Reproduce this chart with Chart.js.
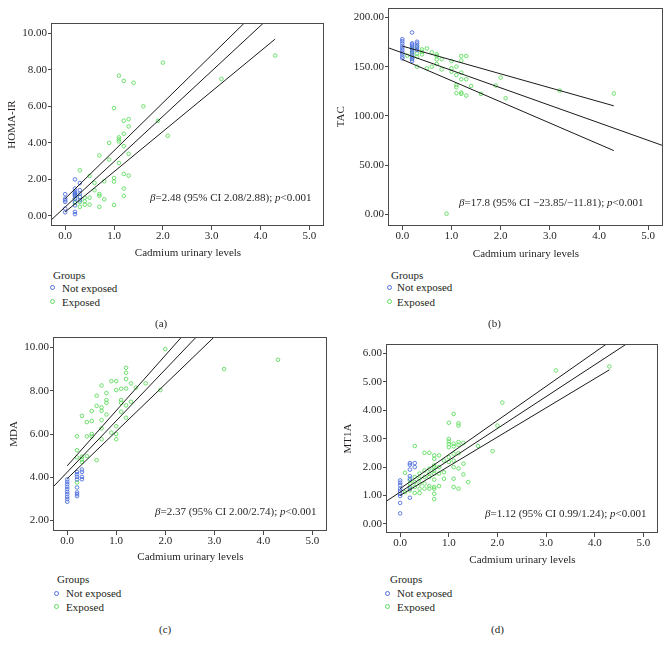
<!DOCTYPE html>
<html>
<head>
<meta charset="utf-8">
<script src="https://cdn.jsdelivr.net/npm/chart.js@4.4.1/dist/chart.umd.min.js"></script>
<style>
  body { margin: 0; background: #fff; width: 670px; height: 651px; position: relative; overflow: hidden;
         font-family: "Liberation Serif", "DejaVu Serif", serif; color: #231f20; }
  canvas { position: absolute; }
  .t { position: absolute; font-size: 11px; line-height: 14px; white-space: nowrap; }
  .dot { position: absolute; width: 3px; height: 3px; border: 1px solid; border-radius: 50%; }
</style>
</head>
<body>
<canvas id="ca" style="left:0;top:0" width="335" height="260"></canvas>
<canvas id="cb" style="left:335px;top:0" width="335" height="261"></canvas>
<canvas id="cc" style="left:0;top:320px" width="335" height="244"></canvas>
<canvas id="cd" style="left:335px;top:320px" width="335" height="247"></canvas>

<!-- stats -->
<div class="t" style="left:150px;top:190px"><i>β</i>=2.48 (95% CI 2.08/2.88); <i>p</i>&lt;0.001</div>
<div class="t" style="left:459px;top:195px"><i>β</i>=17.8 (95% CI −23.85/−11.81); <i>p</i>&lt;0.001</div>
<div class="t" style="left:155px;top:504px"><i>β</i>=2.37 (95% CI 2.00/2.74); <i>p</i>&lt;0.001</div>
<div class="t" style="left:485px;top:506px"><i>β</i>=1.12 (95% CI 0.99/1.24); <i>p</i>&lt;0.001</div>

<!-- legends -->
<div class="t" style="left:53px;top:268px">Groups</div>
<div class="dot" style="left:50px;top:285px;border-color:#4f6fe0"></div>
<div class="t" style="left:62px;top:281px">Not exposed</div>
<div class="dot" style="left:50px;top:299px;border-color:#5fdc5f"></div>
<div class="t" style="left:62px;top:295px">Exposed</div>

<div class="t" style="left:391px;top:268px">Groups</div>
<div class="dot" style="left:387px;top:285px;border-color:#4f6fe0"></div>
<div class="t" style="left:397px;top:280px">Not exposed</div>
<div class="dot" style="left:387px;top:299px;border-color:#5fdc5f"></div>
<div class="t" style="left:397px;top:295px">Exposed</div>

<div class="t" style="left:57px;top:572px">Groups</div>
<div class="dot" style="left:54px;top:591px;border-color:#4f6fe0"></div>
<div class="t" style="left:66px;top:586px">Not exposed</div>
<div class="dot" style="left:54px;top:604px;border-color:#5fdc5f"></div>
<div class="t" style="left:66px;top:600px">Exposed</div>

<div class="t" style="left:390px;top:572px">Groups</div>
<div class="dot" style="left:385px;top:591px;border-color:#4f6fe0"></div>
<div class="t" style="left:397px;top:586px">Not exposed</div>
<div class="dot" style="left:385px;top:604px;border-color:#5fdc5f"></div>
<div class="t" style="left:397px;top:600px">Exposed</div>

<!-- captions -->
<div class="t" style="left:155px;top:316px">(a)</div>
<div class="t" style="left:488px;top:316px">(b)</div>
<div class="t" style="left:159px;top:622px">(c)</div>
<div class="t" style="left:491px;top:622px">(d)</div>

<script>
// x = cadmium urinary levels, y = marker
const homaNotExposed = [[0,1.19],[0,0.95],[0,0.86],[0,0.77],[0,0.4],[0,0.2],
  [0.2,2.0],[0.2,1.5],[0.2,1.32],[0.2,1.25],[0.2,1.19],[0.2,1.12],[0.2,1.08],[0.2,0.95],[0.2,0.77],[0.2,0.58],[0.2,0.22],[0.2,0.1],
  [0.3,1.8],[0.3,1.41],[0.3,1.22],[0.3,1.04],[0.3,0.86]];
const homaExposed = [[4.3,8.78],[2.0,8.39],[1.1,7.68],[1.2,7.39],[1.4,7.29],[1.0,5.9],[1.6,6.0],[3.2,7.5],[1.9,5.21],[2.1,4.39],
  [1.3,5.3],[1.2,5.21],[1.3,4.9],[1.2,4.5],[1.1,4.3],[1.1,4.19],[1.1,4.08],[0.9,4.0],[1.2,3.82],[0.7,3.31],[0.9,3.09],[1.3,3.4],
  [1.1,2.9],[0.3,2.5],[1.2,2.3],[1.3,2.21],[0.5,2.19],[1.0,2.08],[1.0,1.88],[0.6,1.81],[0.8,1.9],[0.6,1.41],[1.2,1.5],[0.7,1.2],
  [0.7,1.1],[1.2,1.1],[0.8,0.91],[0.5,1.0],[0.4,1.0],[0.4,0.8],[0.4,0.62],[0.5,0.62],[0.3,0.5],[0.7,0.5],[1.0,0.6],
  [0.2,1.22],[0.2,0.95],[0.2,0.71],[0.3,1.04],[0.3,0.77]];
const homaFit = [[-0.4,-0.5],[4.5,11.65]];
const homaUpper = [[0,0.95],[4.2,11.95]];
const homaLower = [[0,0.22],[4.3,9.68]];

const tacNotExposed = [[0,178],[0,176],[0,173.7],[0,171.3],[0,169.3],[0,167],[0,164.6],[0,162.6],[0,160.2],[0,158.5],
  [0.2,184.8],[0.2,173.7],[0.2,172.7],[0.2,171.3],[0.2,169.3],[0.2,167],[0.2,164.6],[0.2,162.6],[0.2,160.2],[0.2,157.8],[0.2,155.8],
  [0.3,175.4],[0.3,173.7],[0.3,171.3],[0.3,169.3],[0.3,167]];
const tacExposed = [[0.1,161.2],[0.2,168.6],[0.2,165.3],[0.2,161.9],[0.2,158.5],[0.3,170.3],[0.3,163.6],[0.3,160.2],[0.3,150.1],
  [0.4,167.6],[0.4,165.3],[0.4,162.6],[0.5,168.6],[0.5,148.4],[0.6,164.6],[0.6,150.1],[0.7,162.6],[0.7,160.9],[0.7,157.5],[0.7,152.8],
  [0.8,157.8],[0.8,147.4],[0.9,0.7],[1.0,155.8],[1.0,148.4],[1.0,145],[1.1,150.1],[1.1,141.7],[1.1,131.5],[1.1,129.2],[1.1,123.1],
  [1.2,160.9],[1.2,156.2],[1.2,144],[1.2,137.3],[1.2,123.8],[1.2,122.4],[1.3,160.9],[1.3,137.3],[1.3,120.7],[1.4,130.5],[1.6,122.4],
  [1.9,130.9],[2.0,139],[2.1,118],[3.2,125.8],[4.3,122.8]];
const tacFit = [[-0.4,171.3],[5.5,66.3]];
const tacUpper = [[0,171],[4.3,110.3]];
const tacLower = [[0,157.4],[4.3,64.8]];

const mdaNotExposed = [[0,3.9],[0,3.79],[0,3.68],[0,3.56],[0,3.45],[0,3.33],[0,3.22],[0,3.1],[0,2.99],[0,2.87],
  [0.2,4.25],[0.2,4.14],[0.2,4.02],[0.2,3.9],[0.2,3.53],[0.2,3.3],[0.2,3.22],[0.2,3.13],
  [0.3,4.36],[0.3,4.25],[0.3,4.02],[0.3,3.91]];
const mdaExposed = [[2.0,9.92],[4.3,9.43],[3.2,9.0],[1.2,9.06],[1.2,8.83],[1.2,8.54],[1.2,8.1],[0.9,8.44],[1.0,8.44],[0.7,8.24],
  [1.3,8.34],[1.6,8.34],[1.4,8.14],[1.9,8.03],[1.0,8.03],[1.1,8.09],[0.6,7.77],[0.8,7.89],[0.8,7.57],[0.8,7.44],[1.1,7.57],[1.1,7.44],
  [1.3,7.49],[1.2,7.32],[0.5,7.06],[0.6,7.3],[0.7,7.23],[0.7,7.07],[0.3,6.84],[0.8,6.9],[1.1,7.03],[1.2,6.75],[0.4,6.55],[0.5,6.6],
  [0.7,6.64],[1.0,6.36],[0.7,6.26],[0.2,5.89],[0.4,5.89],[0.5,6.0],[0.5,5.89],[0.9,6.06],[1.0,6.0],[1.0,5.76],[0.7,5.76],[0.2,5.25],
  [0.2,4.92],[0.3,4.95],[0.3,4.82],[0.3,4.71],[0.4,4.98],[0.6,4.79],[0.2,3.76]];
const mdaFit = [[-0.4,3.29],[3.0,11.35]];
const mdaUpper = [[0,4.53],[2.6,11.16]];
const mdaLower = [[0,3.94],[3.2,10.92]];

const mt1aNotExposed = [[0,1.53],[0,1.45],[0,1.36],[0,1.24],[0,1.16],[0,1.06],[0,0.98],[0,0.74],[0,0.37],
  [0.2,2.14],[0.2,2.08],[0.2,1.91],[0.2,1.68],[0.2,1.59],[0.2,1.24],[0.2,0.92],[0.3,2.14],[0.3,2.0]];
const mt1aExposed = [[4.3,5.54],[3.2,5.4],[2.1,4.27],[2.0,3.46],[1.9,2.56],[1.6,2.74],[1.4,1.47],[1.1,3.87],[1.0,3.56],[1.2,3.54],
  [1.2,3.46],[1.0,2.99],[1.0,2.9],[1.0,2.81],[1.0,2.7],[1.1,2.82],[1.1,2.73],[1.2,2.88],[1.2,2.78],[1.3,2.85],[1.1,2.47],[1.1,2.23],
  [1.1,2.0],[1.2,2.49],[1.2,1.95],[1.3,2.12],[1.3,1.74],[1.0,2.35],[1.0,2.18],[1.1,1.59],[1.1,1.3],[1.2,1.24],[0.9,2.23],[0.9,1.82],
  [0.9,1.59],[0.8,2.41],[0.8,2.0],[0.8,1.77],[0.8,1.33],[0.7,2.41],[0.7,2.29],[0.7,2.06],[0.7,2.0],[0.7,1.88],[0.7,1.77],[0.7,1.56],
  [0.7,1.3],[0.7,1.24],[0.7,1.06],[0.7,0.87],[0.6,2.5],[0.6,1.94],[0.6,1.77],[0.6,1.65],[0.6,1.33],[0.6,1.24],[0.5,2.5],[0.5,1.88],
  [0.5,1.65],[0.5,1.42],[0.5,1.24],[0.4,1.77],[0.4,1.59],[0.4,1.42],[0.4,1.24],[0.4,1.09],[0.3,2.74],[0.3,1.65],[0.3,1.47],[0.3,1.3],
  [0.3,1.09],[0.2,1.53],[0.2,1.42],[0.2,1.3],[0.2,1.18],[0.1,1.8],[0.1,1.12]];
const mt1aFit = [[-0.4,0.67],[5.0,6.72]];
const mt1aUpper = [[0,1.24],[4.6,6.76]];
const mt1aLower = [[0,1.0],[4.3,5.42]];

const xTicks = [0, 1, 2, 3, 4, 5];

const blue = '#4f6fe0';
const green = '#5fdc5f';
const ink = '#231f20';
const font = { family: '"Liberation Serif", "DejaVu Serif", serif', size: 11, lineHeight: 1.2 };

const frame = {
  id: 'frame',
  afterDatasetsDraw(chart) {
    const { ctx, chartArea: a } = chart;
    ctx.save();
    ctx.strokeStyle = '#4a4a4a';
    ctx.lineWidth = 1;
    ctx.strokeRect(Math.round(a.left) - 0.5, Math.round(a.top) + 0.5,
      Math.round(a.right - a.left), Math.round(a.bottom - a.top) - 1);
    ctx.restore();
  }
};

const toXY = pts => pts.map(p => ({ x: p[0], y: p[1] }));

function fitLine(pts) {
  return { data: toXY(pts), showLine: true, borderColor: '#1a1a1a', borderWidth: 1, pointRadius: 0, pointHoverRadius: 0 };
}
function dots(pts, color) {
  return { data: toXY(pts), showLine: false, pointStyle: 'circle', pointRadius: 1.8, pointHoverRadius: 1.8,
    borderWidth: 0.9, borderColor: color, backgroundColor: 'rgba(0,0,0,0)' };
}

function panel(id, p) {
  new Chart(document.getElementById(id), {
    type: 'scatter',
    data: {
      datasets: [fitLine(p.fit), fitLine(p.upper), fitLine(p.lower), dots(p.notExp, blue), dots(p.exp, green)]
    },
    options: {
      responsive: false,
      animation: false,
      events: [],
      layout: { padding: { top: p.padTop, right: p.padRight, left: 0, bottom: 0 } },
      plugins: { legend: { display: false }, tooltip: { enabled: false } },
      scales: {
        x: {
          type: 'linear', min: -0.27, max: 5.3,
          afterBuildTicks: s => { s.ticks = xTicks.map(v => ({ value: v })); },
          afterFit: s => { s.height = p.xHeight; },
          grid: { drawOnChartArea: false, tickLength: 4, color: '#4a4a4a' },
          border: { display: false },
          ticks: { padding: 0, color: ink, font, callback: v => v.toFixed(1) },
          title: { display: true, text: 'Cadmium urinary levels', color: ink, font, padding: { top: 0, bottom: 0 } }
        },
        y: {
          min: p.yMin, max: p.yMax,
          afterBuildTicks: s => { s.ticks = p.yTicks.map(v => ({ value: v })); },
          afterFit: s => { s.width = p.yWidth; },
          grid: { drawOnChartArea: false, tickLength: 4, color: '#4a4a4a' },
          border: { display: false },
          ticks: { padding: 1, color: ink, font, callback: v => v.toFixed(2) },
          title: { display: true, text: p.yTitle, color: ink, font, padding: { top: p.titlePad, bottom: 0 } }
        }
      }
    },
    plugins: [frame]
  });
}

panel('ca', { notExp: homaNotExposed, exp: homaExposed, fit: homaFit, upper: homaUpper, lower: homaLower,
  yTitle: 'HOMA-IR', yMin: -0.55, yMax: 10.56, yTicks: [0, 2, 4, 6, 8, 10],
  yWidth: 52, xHeight: 34, padTop: 23, padRight: 11, titlePad: 6 });
panel('cb', { notExp: tacNotExposed, exp: tacExposed, fit: tacFit, upper: tacUpper, lower: tacLower,
  yTitle: 'TAC', yMin: -11.8, yMax: 210.1, yTicks: [0, 50, 100, 150, 200],
  yWidth: 54, xHeight: 35, padTop: 7, padRight: 7, titlePad: 0 });
panel('cc', { notExp: mdaNotExposed, exp: mdaExposed, fit: mdaFit, upper: mdaUpper, lower: mdaLower,
  yTitle: 'MDA', yMin: 1.52, yMax: 10.48, yTicks: [2, 4, 6, 8, 10],
  yWidth: 54, xHeight: 33, padTop: 17, padRight: 8, titlePad: 8 });
panel('cd', { notExp: mt1aNotExposed, exp: mt1aExposed, fit: mt1aFit, upper: mt1aUpper, lower: mt1aLower,
  yTitle: 'MT1A', yMin: -0.32, yMax: 6.33, yTicks: [0, 1, 2, 3, 4, 5, 6],
  yWidth: 52, xHeight: 34, padTop: 24, padRight: 12, titlePad: 7 });
</script>
</body>
</html>
